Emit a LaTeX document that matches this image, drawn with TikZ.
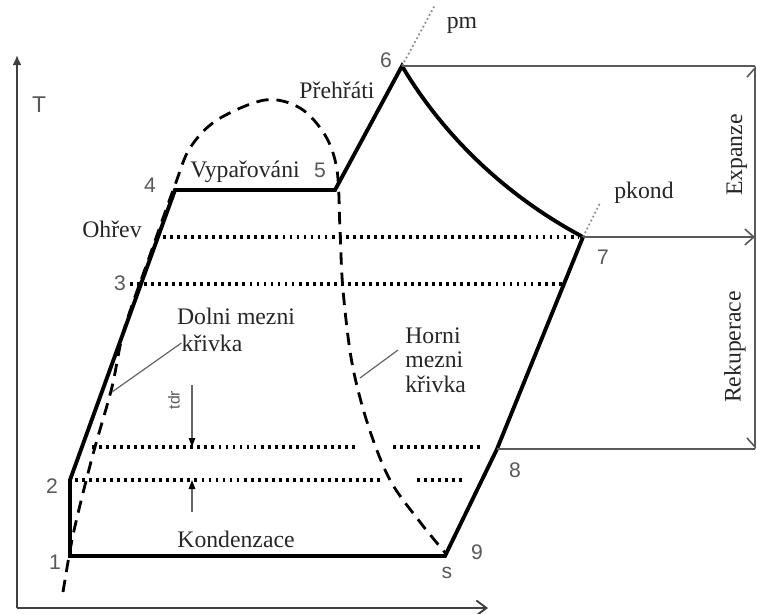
\documentclass[tikz,border=0pt]{standalone}
\usepackage{fontspec}
\setmainfont{Liberation Serif}
\setsansfont{Liberation Sans}
\usetikzlibrary{arrows.meta}
\tikzset{
  proc line/.style={line width=2.2pt,line join=miter},
  sat curve/.style={line width=1.6pt,dash pattern=on 7pt off 4.5pt},
  level line/.style={line width=1.8pt,dash pattern=on 1.6pt off 2.4pt},
  dim line/.style={black!65,line width=0.9pt},
  iso line/.style={black!45,line width=1pt,dash pattern=on 1pt off 1.5pt},
  axis line/.style={black!75,line width=1.1pt},
  pt label/.style={font=\sffamily\fontsize{12}{12}\selectfont,text=black!65,inner sep=0pt},
  phase label/.style={font=\fontsize{13.5}{14}\selectfont,text=black!85,inner sep=0pt},
}

\begin{document}
\begin{tikzpicture}[x=0.2mm,y=-0.2mm]
  \useasboundingbox (0,0) rectangle (757,614);
  % axes
  \coordinate (origin) at (17,608);
  \coordinate (tend) at (17,55);
  \coordinate (send) at (488,608);
  \draw[axis line,-{Latex[length=2mm,width=1.8mm]}] (origin) -- (tend);
  \draw[axis line,-{Straight Barb[length=2mm,width=3mm]}] (origin) -- (send);
  % cycle points
  \coordinate (p1) at (70,556);
  \coordinate (p2) at (70,480);
  \coordinate (p4) at (175,190);
  \coordinate (p5) at (335,190);
  \coordinate (p6) at (402,66);
  \coordinate (p7) at (583,237);
  \coordinate (p8) at (497,449);
  \coordinate (p9) at (445,556);
  % saturation curve
  \draw[sat curve] plot[smooth,tension=0.55] coordinates {(63,592) (72,540) (83,493)
    (95,447) (112,387) (124,330) (150,255) (175,185) (190,148) (217,120) (265,100)
    (300,108) (325,135) (337,170) (340,230) (343,290) (352,363) (368,425) (390,480)
    (420,522) (447,555)};
  % levels
  \draw[level line] (163,237) -- (578,237);
  \draw[level line] (130,284) -- (562,284);
  \draw[level line] (92,447) -- (357,447);
  \draw[level line] (393,447) -- (484,447);
  \draw[level line] (75,480) -- (380,480);
  \draw[level line] (417,480) -- (463,480);
  % cycle
  \draw[proc line] (p1) -- (p2) -- (p4) -- (p5) -- (p6)
    .. controls (437,125) and (495,190) .. (p7) -- (p8) -- (p9) -- cycle;
  % isobars
  \coordinate (pmend) at (435,5);
  \coordinate (pkend) at (600,203);
  \draw[iso line] (p6) -- (pmend);
  \draw[iso line] (p7) -- (pkend);
  % dimensions on the right
  \coordinate (r6) at (755,66);
  \coordinate (r7) at (755,237);
  \coordinate (r8) at (755,449);
  \draw[dim line] (p6) -- (r6);
  \draw[dim line,-{Straight Barb[length=1.8mm,width=3.2mm]}] (p7) -- (r7);
  \draw[dim line] (p8) -- (r8);
  \draw[dim line,{Straight Barb[length=1.8mm,width=3.2mm,right]}-{Straight Barb[length=1.8mm,width=3.2mm,left]}] (r8) -- (r6);
  % tdr
  \coordinate (ttop) at (192,385);
  \coordinate (tbot) at (192,512);
  \coordinate (tup) at (192,447);
  \coordinate (tlow) at (192,480);
  \draw[black!60,line width=0.8pt,-{Triangle[length=1.8mm,width=1.3mm,black]}] (ttop) -- (tup);
  \draw[black!60,line width=0.8pt,-{Triangle[length=1.8mm,width=1.3mm,black]}] (tbot) -- (tlow);
  \node[pt label,font=\sffamily\fontsize{9}{9}\selectfont,rotate=90] (tdr) at (174,400) {tdr};
  % labels
  \node[pt label,font=\sffamily\fontsize{13}{13}\selectfont] (tlab) at (39,105) {T};
  \node[pt label] (n1) at (55,562) {1};
  \node[pt label] (n2) at (52,486) {2};
  \node[pt label] (n3) at (120,283) {3};
  \node[pt label] (n4) at (150,185) {4};
  \node[pt label] (n5) at (320,170) {5};
  \node[pt label] (n6) at (386,60) {6};
  \node[pt label] (n7) at (603,257) {7};
  \node[pt label] (n8) at (515,470) {8};
  \node[pt label] (n9) at (477,552) {9};
  \node[pt label] (ns) at (447,573) {s};
  \node[phase label] (pm) at (462,25) {pm};
  \node[phase label] (pkond) at (644,193) {pkond};
  \node[phase label] (prehrati) at (337,90) {Přehřáti};
  \node[phase label] (vyparovani) at (245,172) {Vypařováni};
  \node[phase label] (ohrev) at (112,229) {Ohřev};
  \node[phase label] (dolni) at (236,316) {Dolni mezni};
  \node[phase label] (krivka) at (212,343) {křivka};
  \node[phase label,align=left,anchor=north west] (horni) at (405,327) {Horni\\mezni\\křivka};
  \node[phase label] (kondenzace) at (236,539) {Kondenzace};
  \node[phase label,rotate=90] (expanze) at (737,155) {Expanze};
  \node[phase label,rotate=90] (rekuperace) at (735,347) {Rekuperace};
  % leaders
  \coordinate (dolnitip) at (112,392);
  \coordinate (hornitip) at (360,378);
  \draw[black!60,line width=0.7pt] (krivka.west) -- (dolnitip);
  \draw[black!60,line width=0.7pt] (398,350) -- (hornitip);
\end{tikzpicture}
\end{document}
